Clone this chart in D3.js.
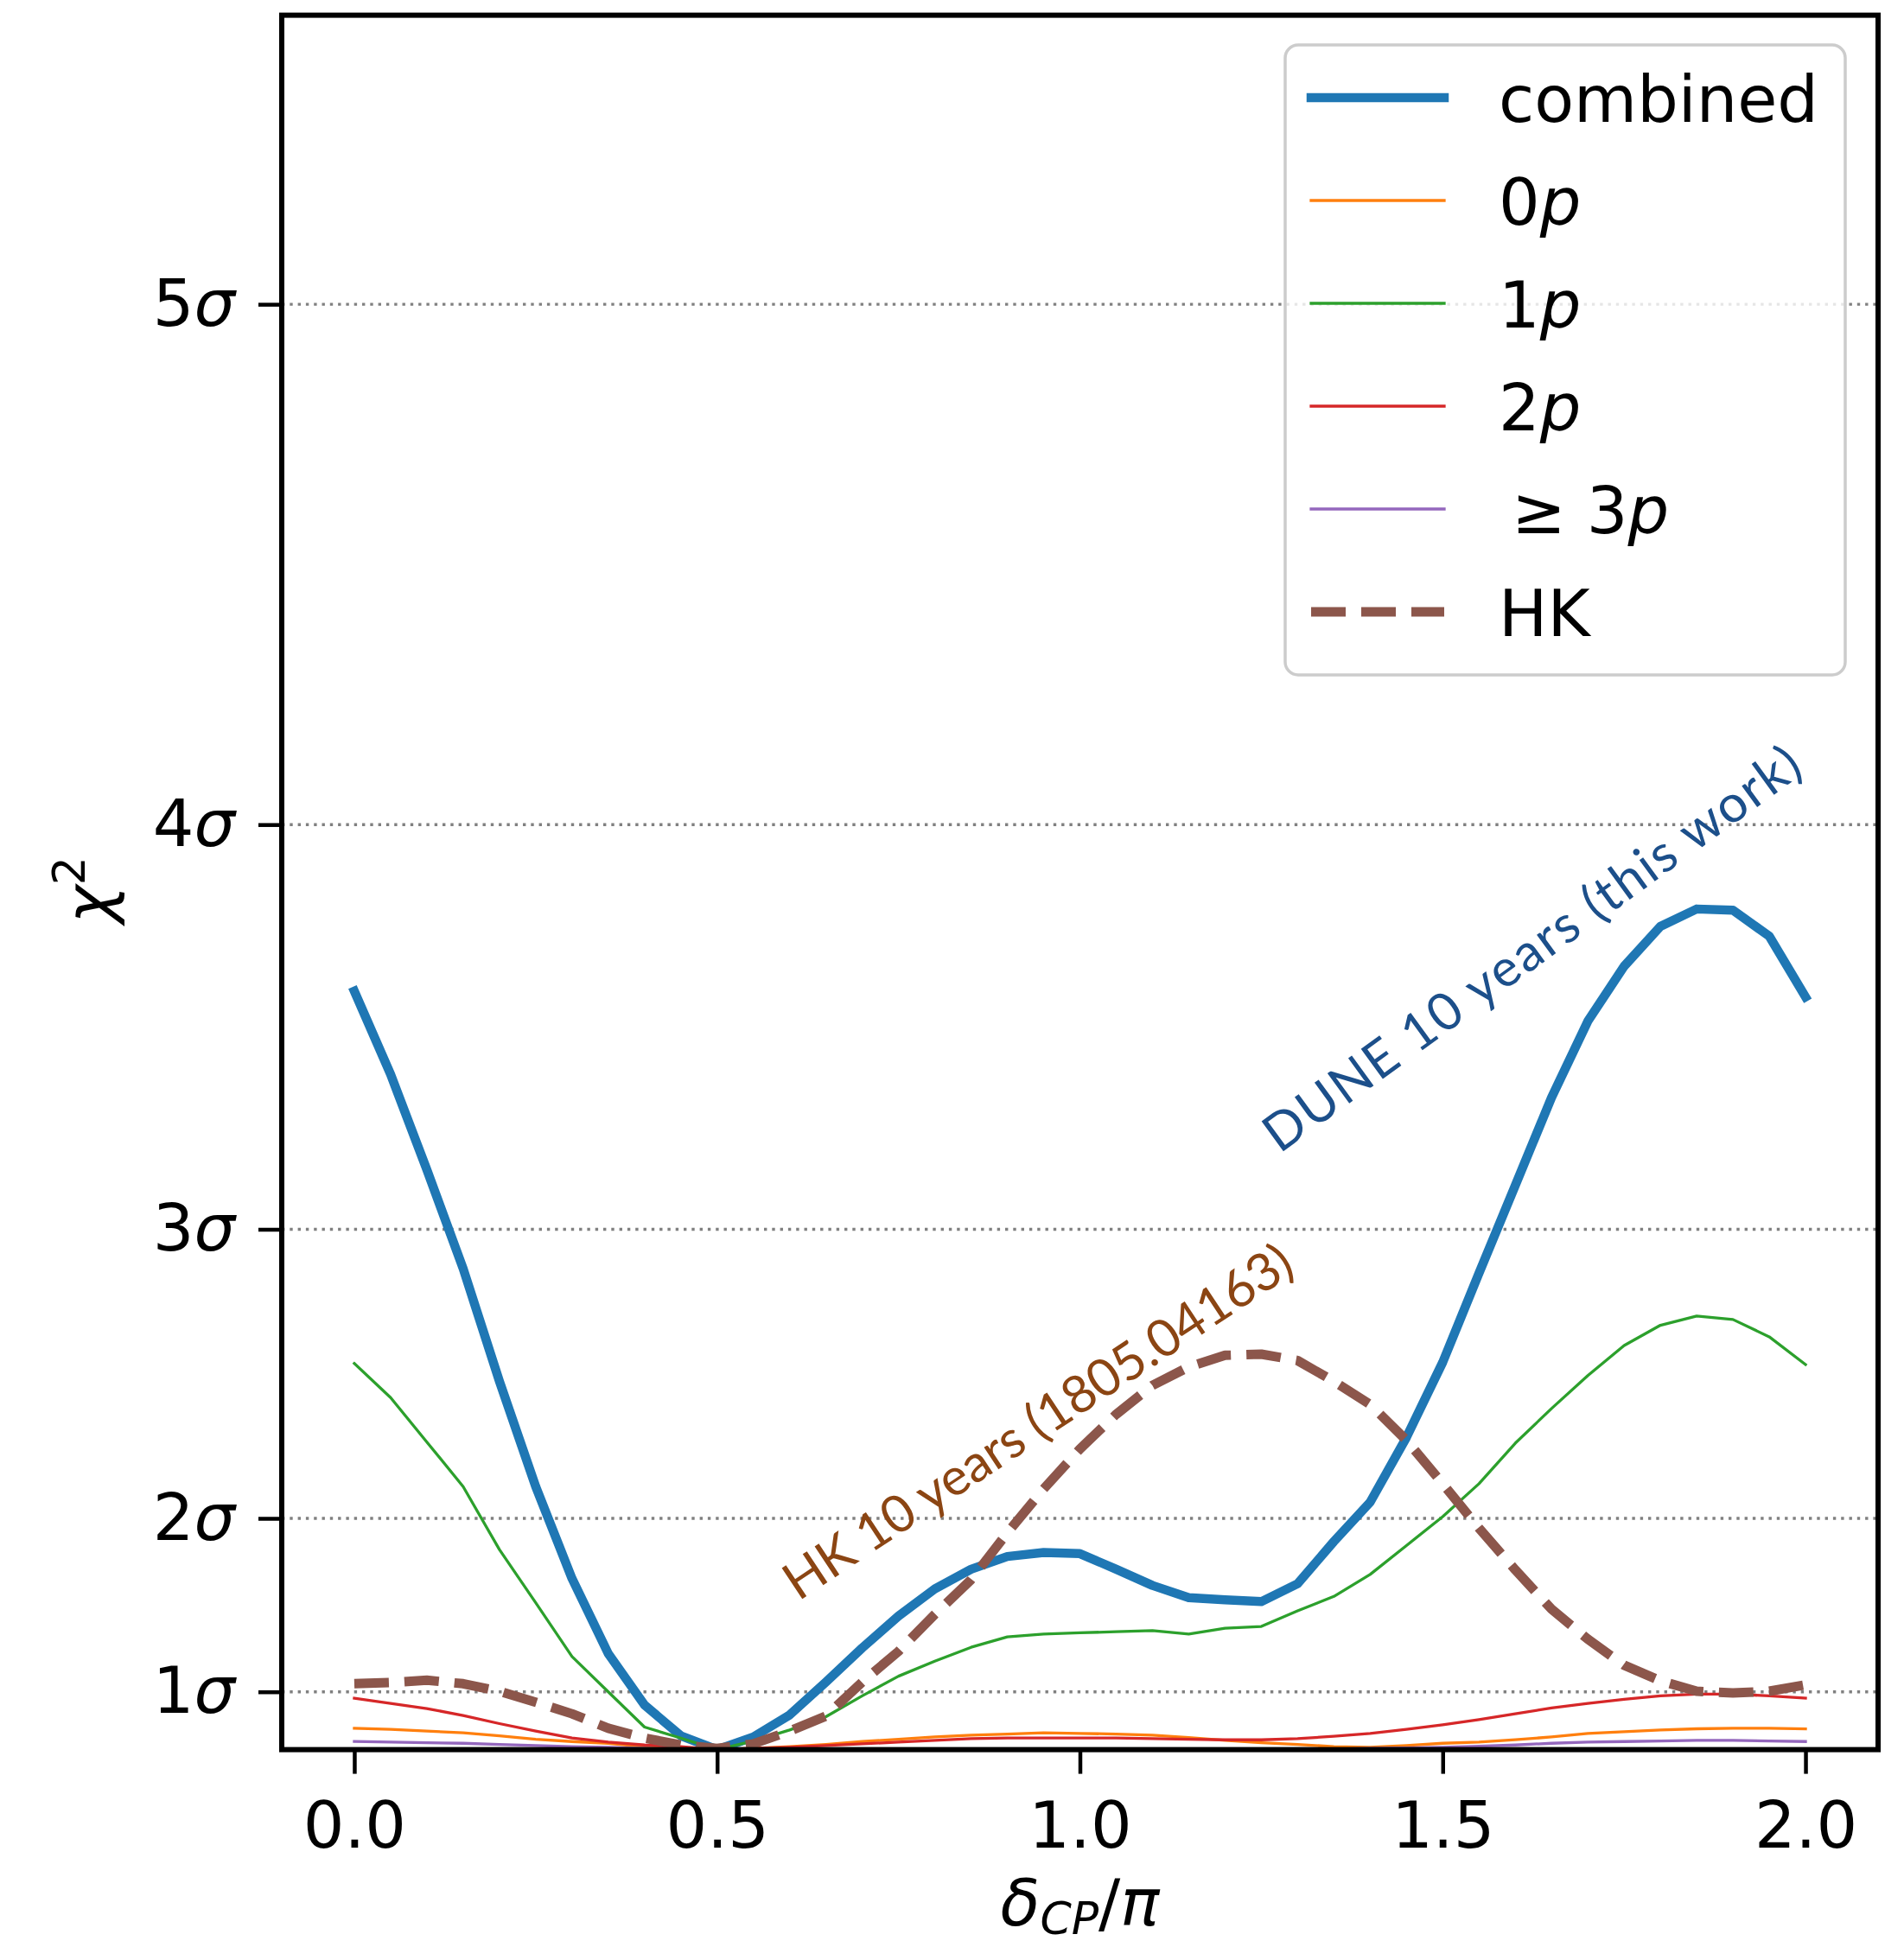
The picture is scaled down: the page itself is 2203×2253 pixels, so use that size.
<!DOCTYPE html>
<html>
<head>
<meta charset="utf-8" />
<title>chi2 vs delta_CP</title>
<script src="https://d3js.org/d3.v7.min.js"></script>
<style>
  body { margin: 0; padding: 0; background: #ffffff; }
  svg { display: block; }
  text { font-family: "DejaVu Sans", sans-serif; }
</style>
</head>
<body>
<div id="chart"></div>
<script>

// delta_CP / pi grid
const delta = [0.00, 0.05, 0.10, 0.15, 0.20, 0.25, 0.30, 0.35, 0.40, 0.45,
               0.50, 0.55, 0.60, 0.65, 0.70, 0.75, 0.80, 0.85, 0.90, 0.95,
               1.00, 1.05, 1.10, 1.15, 1.20, 1.25, 1.30, 1.35, 1.40, 1.45,
               1.50, 1.55, 1.60, 1.65, 1.70, 1.75, 1.80, 1.85, 1.90, 1.95, 2.00]

// chi^2 values
const combined = [13.12, 11.68, 10.03, 8.32, 6.37, 4.55, 2.96, 1.66, 0.77, 0.24,
                  0.00, 0.22, 0.60, 1.17, 1.76, 2.31, 2.78, 3.12, 3.34, 3.41,
                  3.39, 3.12, 2.84, 2.63, 2.59, 2.56, 2.87, 3.60, 4.28, 5.40,
                  6.70, 8.24, 9.76, 11.28, 12.60, 13.55, 14.24, 14.54, 14.52, 14.07, 13.02]
const p0 = [0.37, 0.35, 0.32, 0.29, 0.24, 0.18, 0.14, 0.11, 0.05, 0.01,
            0.00, 0.02, 0.05, 0.09, 0.14, 0.18, 0.22, 0.25, 0.27, 0.29,
            0.28, 0.27, 0.25, 0.21, 0.16, 0.12, 0.09, 0.05, 0.04, 0.07,
            0.11, 0.13, 0.17, 0.22, 0.28, 0.31, 0.34, 0.36, 0.37, 0.37, 0.36]
const p1 = [6.68, 6.09, 5.32, 4.55, 3.46, 2.54, 1.61, 1.00, 0.39, 0.20,
            0.00, 0.15, 0.34, 0.57, 0.93, 1.27, 1.53, 1.77, 1.95, 2.00,
            2.02, 2.04, 2.06, 2.00, 2.10, 2.13, 2.40, 2.65, 3.03, 3.53,
            4.03, 4.60, 5.30, 5.90, 6.47, 6.99, 7.34, 7.50, 7.44, 7.14, 6.66]
const p2 = [0.89, 0.80, 0.71, 0.59, 0.45, 0.32, 0.20, 0.13, 0.08, 0.05,
            0.00, 0.02, 0.04, 0.07, 0.10, 0.13, 0.16, 0.19, 0.20, 0.20,
            0.20, 0.20, 0.19, 0.18, 0.17, 0.17, 0.19, 0.23, 0.28, 0.35,
            0.43, 0.52, 0.62, 0.72, 0.80, 0.87, 0.93, 0.96, 0.96, 0.93, 0.89]
const p3plus = [0.14, 0.13, 0.12, 0.11, 0.09, 0.07, 0.05, 0.04, 0.02, 0.01,
                0.00, 0.01, 0.01, 0.01, 0.01, 0.01, 0.01, 0.01, 0.01, 0.01,
                0.01, 0.01, 0.01, 0.01, 0.01, 0.01, 0.01, 0.01, 0.02, 0.03,
                0.04, 0.06, 0.08, 0.11, 0.13, 0.14, 0.15, 0.16, 0.16, 0.15, 0.14]
const hk = [1.14, 1.16, 1.20, 1.14, 1.01, 0.82, 0.62, 0.37, 0.20, 0.08,
            0.02, 0.10, 0.32, 0.58, 1.17, 1.70, 2.34, 2.94, 3.75, 4.51,
            5.20, 5.80, 6.30, 6.62, 6.82, 6.84, 6.73, 6.37, 5.97, 5.35,
            4.60, 3.83, 3.11, 2.43, 1.91, 1.46, 1.19, 1.01, 0.98, 1.01, 1.12]

const xTicks = [0.0, 0.5, 1.0, 1.5, 2.0]
const sigmaTicks = [1, 4, 9, 16, 25]
const sigmaLabels = ['1', '2', '3', '4', '5']
const legendLabels = ['combined', '0p', '1p', '2p', '\u2009\u2265 3p', 'HK']

const width = 2203, height = 2253
const margin = {top: 17.6, right: 30, bottom: 228.4, left: 326}
const fs = 75

const svg = d3.select('#chart').append('svg')
  .attr('width', width)
  .attr('height', height)
svg.append('rect').attr('width', width).attr('height', height).attr('fill', '#ffffff')

const x = d3.scaleLinear().domain([-0.1, 2.1]).range([margin.left, width - margin.right])
const y = d3.scaleLinear().domain([0, 30]).range([height - margin.bottom, margin.top])

const series = [
  {values: combined, color: '#1f77b4', lw: 10.5, dash: null},
  {values: p0, color: '#ff7f0e', lw: 3.3, dash: null},
  {values: p1, color: '#2ca02c', lw: 3.3, dash: null},
  {values: p2, color: '#d62728', lw: 3.3, dash: null},
  {values: p3plus, color: '#9467bd', lw: 3.3, dash: null},
  {values: hk, color: '#8c564b', lw: 11, dash: '40 18'}
]

svg.append('clipPath').attr('id', 'plotclip')
  .append('rect')
  .attr('x', margin.left).attr('y', margin.top)
  .attr('width', width - margin.left - margin.right)
  .attr('height', height - margin.top - margin.bottom)

// dotted sigma grid
svg.append('g').selectAll('line')
  .data(sigmaTicks)
  .join('line')
    .attr('x1', margin.left).attr('x2', width - margin.right)
    .attr('y1', d => y(d)).attr('y2', d => y(d))
    .attr('stroke', '#808080')
    .attr('stroke-width', 3.4)
    .attr('stroke-dasharray', '3.4 5.9')

// curves
const line = d3.line()
  .x((d, i) => x(delta[i]))
  .y(d => y(d))

const plot = svg.append('g').attr('clip-path', 'url(#plotclip)')
series.forEach(s => {
  plot.append('path')
    .datum(s.values)
    .attr('fill', 'none')
    .attr('stroke', s.color)
    .attr('stroke-width', s.lw)
    .attr('stroke-linejoin', 'round')
    .attr('stroke-linecap', s.dash ? 'butt' : 'square')
    .attr('stroke-dasharray', s.dash)
    .attr('d', line)
})

// rotated annotations
const annotations = [
  {text: 'DUNE 10 years (this work)', x: 1.275, y: 10.30, angle: 36, color: '#1c4f8a', len: 752},
  {text: 'HK 10 years (1805.04163)', x: 0.612, y: 2.56, angle: 33.5, color: '#8b4513', len: 692}
]
annotations.forEach(a => {
  svg.append('text')
    .attr('transform', `translate(${x(a.x)},${y(a.y)}) rotate(${-a.angle})`)
    .attr('fill', a.color)
    .style('font-family', 'Lato, "Open Sans", sans-serif')
    .style('font-size', '60px')
    .attr('textLength', a.len)
    .attr('lengthAdjust', 'spacing')
    .text(a.text)
})

// axes
const xAxis = svg.append('g')
  .attr('transform', `translate(0,${height - margin.bottom})`)
  .call(d3.axisBottom(x).tickValues(xTicks).tickFormat(d3.format('.1f'))
    .tickSize(28).tickSizeOuter(0).tickPadding(32))
xAxis.select('.domain').remove()
xAxis.selectAll('line').attr('stroke', '#000').attr('stroke-width', 4.5)
xAxis.selectAll('text').attr('fill', '#000')
  .style('font-family', '"DejaVu Sans", sans-serif').style('font-size', fs + 'px')

const yAxis = svg.append('g')
  .attr('transform', `translate(${margin.left},0)`)
  .call(d3.axisLeft(y).tickValues(sigmaTicks).tickFormat((d, i) => sigmaLabels[i])
    .tickSize(27).tickSizeOuter(0).tickPadding(27))
yAxis.select('.domain').remove()
yAxis.selectAll('line').attr('stroke', '#000').attr('stroke-width', 4.5)
yAxis.selectAll('text').attr('fill', '#000')
  .style('font-family', '"DejaVu Sans", sans-serif').style('font-size', fs + 'px')
  .each(function() {
    const t = d3.select(this)
    const num = t.text()
    t.text(null)
    t.append('tspan').text(num)
    t.append('tspan').style('font-style', 'italic').text('\u03c3')
  })

// frame
svg.append('rect')
  .attr('x', margin.left).attr('y', margin.top)
  .attr('width', width - margin.left - margin.right)
  .attr('height', height - margin.top - margin.bottom)
  .attr('fill', 'none')
  .attr('stroke', '#000')
  .attr('stroke-width', 6)

// axis labels
const xl = svg.append('text')
  .attr('x', (margin.left + width - margin.right) / 2)
  .attr('y', 2228)
  .attr('text-anchor', 'middle')
  .style('font-size', fs + 'px')
xl.append('tspan').style('font-style', 'italic').text('\u03b4')
xl.append('tspan').style('font-style', 'italic').style('font-size', '52px').attr('dy', 10).text('CP')
xl.append('tspan').attr('dy', -10).text('/')
xl.append('tspan').style('font-style', 'italic').text('\u03c0')

const yl = svg.append('text')
  .attr('transform', `translate(128,1030) rotate(-90)`)
  .attr('text-anchor', 'middle')
  .style('font-size', fs + 'px')
yl.append('tspan').style('font-style', 'italic').text('\u03c7')
yl.append('tspan').style('font-size', '52px').attr('dy', -30).text('2')

// legend
const lg = svg.append('g')
lg.append('rect')
  .attr('x', 1487).attr('y', 52)
  .attr('width', 648).attr('height', 729)
  .attr('rx', 15)
  .attr('fill', '#ffffff').attr('fill-opacity', 0.8)
  .attr('stroke', '#cccccc').attr('stroke-width', 3.5)

legendLabels.forEach((label, i) => {
  const s = series[i]
  const ry = 113 + i * 119
  lg.append('line')
    .attr('x1', 1517).attr('x2', 1671)
    .attr('y1', ry).attr('y2', ry)
    .attr('stroke', s.color)
    .attr('stroke-width', s.lw)
    .attr('stroke-linecap', s.dash ? 'butt' : 'square')
    .attr('stroke-dasharray', s.dash)
  const t = lg.append('text')
    .attr('x', 1734).attr('y', ry + 28)
    .attr('fill', '#000')
    .style('font-size', fs + 'px')
    .style('white-space', 'pre')
  if (label.endsWith('p') && label.length < 7) {
    t.append('tspan').text(label.slice(0, -1))
    t.append('tspan').style('font-style', 'italic').text('p')
  } else {
    t.text(label)
  }
})

</script>
</body>
</html>
